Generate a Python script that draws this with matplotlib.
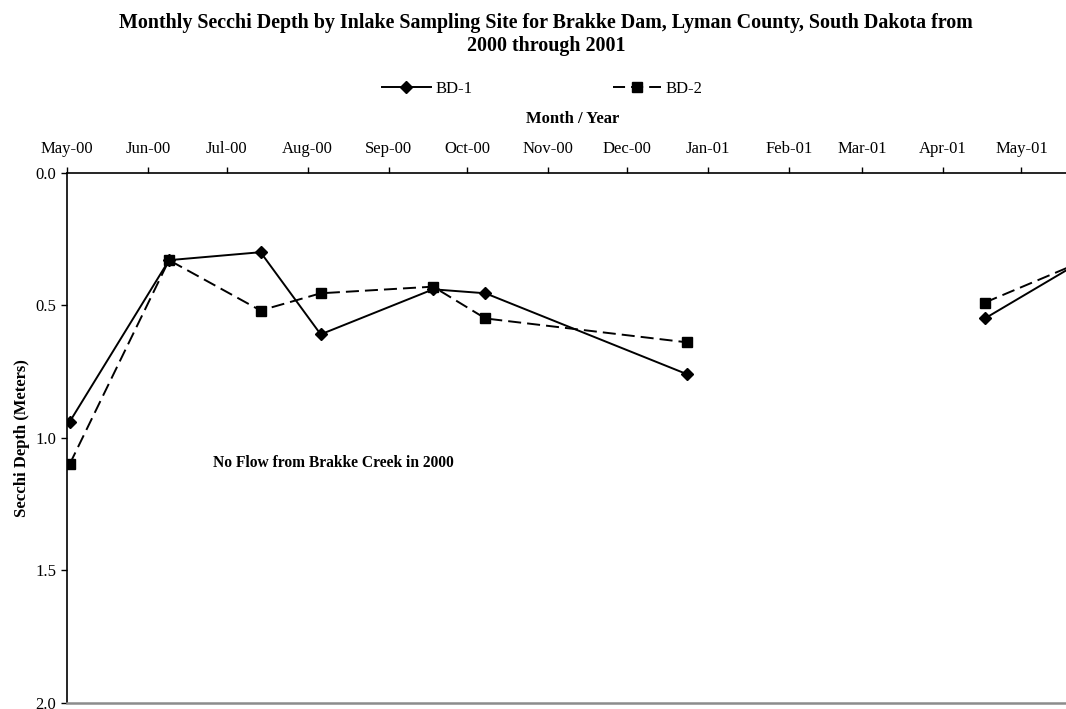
import datetime as dt
import matplotlib
matplotlib.use("Agg")
import matplotlib.pyplot as plt
import matplotlib.dates as mdates
from matplotlib.lines import Line2D
from matplotlib.ticker import MultipleLocator, FormatStrFormatter

plt.rcParams["font.family"] = ["Liberation Serif", "DejaVu Serif"]

# sampling dates and Secchi depths (m); None breaks the line over winter
dates = [dt.date(2000, 5, 2), dt.date(2000, 6, 9), dt.date(2000, 7, 14),
         dt.date(2000, 8, 6), dt.date(2000, 9, 18), dt.date(2000, 10, 8),
         dt.date(2000, 12, 24), dt.date(2001, 2, 15), dt.date(2001, 4, 17),
         dt.date(2001, 5, 23)]
bd1 = [0.94, 0.33, 0.30, 0.61, 0.44, 0.455, 0.76, None, 0.55, 0.34]
bd2 = [1.10, 0.33, 0.52, 0.455, 0.43, 0.55, 0.64, None, 0.49, 0.34]

title = ("Monthly Secchi Depth by Inlake Sampling Site for Brakke Dam, Lyman County, South Dakota from\n"
         "2000 through 2001")
note = "No Flow from Brakke Creek in 2000"

LW = 1.4


def masked(vals):
    return [float("nan") if v is None else v for v in vals]


fig = plt.figure(figsize=(10.66, 7.09), dpi=100)
# plot area runs slightly past the right edge of the page
ax = fig.add_axes([0.0629, 0.0089, 0.9493, 0.7475])

ax.plot(dates, masked(bd1), color="black", lw=LW, marker="D", ms=6)
ax.plot(dates, masked(bd2), color="black", lw=LW, ls=(0, (6.7, 3.1)),
        marker="s", ms=7)

ax.set_xlim(dt.date(2000, 5, 1), dt.date(2001, 5, 23))
ax.set_ylim(2.0, 0.0)
ax.yaxis.set_major_locator(MultipleLocator(0.5))
ax.yaxis.set_major_formatter(FormatStrFormatter("%.1f"))

ax.xaxis.tick_top()
ax.xaxis.set_label_position("top")
ax.xaxis.set_major_locator(mdates.MonthLocator())
ax.xaxis.set_major_formatter(mdates.DateFormatter("%b-%y"))
ax.tick_params(axis="x", direction="out", length=4.3, width=1, labelsize=12, pad=7)
ax.tick_params(axis="y", direction="out", length=4.3, width=1, labelsize=12, pad=3.5)

for side in ("top", "left"):
    ax.spines[side].set_color("black")
    ax.spines[side].set_linewidth(1.2)
ax.spines["bottom"].set_color("#8c8c8c")
ax.spines["bottom"].set_linewidth(1.8)
ax.spines["right"].set_visible(False)

ax.set_xlabel("Month / Year", fontsize=12, fontweight="bold", labelpad=13)
ax.set_ylabel("Secchi Depth (Meters)", fontsize=12, fontweight="bold", labelpad=4)

ax.text(dt.date(2000, 6, 26), 1.095, note, fontsize=11.2, fontweight="bold",
        ha="left", va="center")

fig.text(0.512, 0.982, title, ha="center", va="top", fontsize=14.4,
         fontweight="bold", linespacing=1.2)

# legend keys: short dash either side of the square for BD-2
key1 = Line2D([], [], color="black", lw=LW, marker="D", ms=6)
key2 = Line2D([], [], color="black", lw=LW, marker="s", ms=7,
              ls=(0, (6.2, 3.1, 6.2, 3.1, 6.2, 3.1)))
fig.legend([key1, key2], ["BD-1", "BD-2"], loc="center",
           bbox_to_anchor=(0.509, 0.8745), ncol=2, frameon=False, fontsize=12,
           handlelength=2.9, columnspacing=8.4, handletextpad=0.3)

fig.savefig("out.png", dpi=100)
